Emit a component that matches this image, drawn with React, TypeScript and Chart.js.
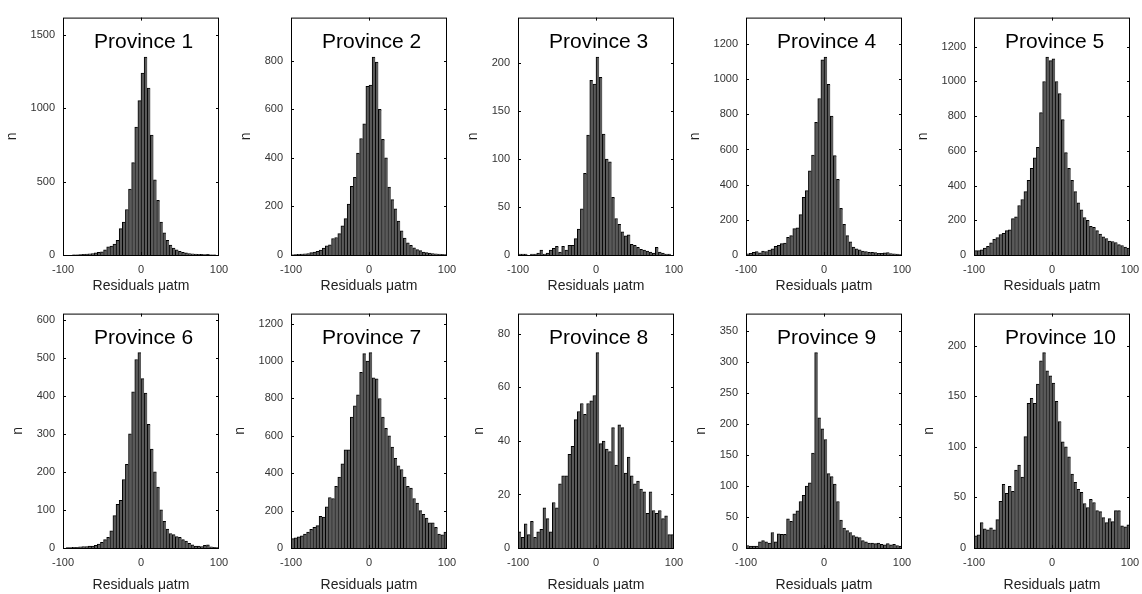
import React, { useEffect, useRef } from "react";
import { Chart, registerables } from "chart.js";

Chart.register(...registerables);
Chart.defaults.font.family = '"Liberation Sans", Arial, Helvetica, sans-serif';

// ---------- data ----------
const binCenters = [
  -98, -94, -90, -86, -82, -78, -74, -70, -66, -62,
  -58, -54, -50, -46, -42, -38, -34, -30, -26, -22,
  -18, -14, -10, -6, -2, 2, 6, 10, 14, 18,
  22, 26, 30, 34, 38, 42, 46, 50, 54, 58,
  62, 66, 70, 74, 78, 82, 86, 90, 94, 98,
];

const xTickValues = [-100, 0, 100];

const provinceNames = [
  "Province 1", "Province 2", "Province 3", "Province 4", "Province 5",
  "Province 6", "Province 7", "Province 8", "Province 9", "Province 10",
];

const yTickSteps = [500, 200, 50, 200, 200, 100, 200, 20, 50, 50];

const province1 = [
  0, 0, 0, 1, 2, 3, 4, 6, 8, 10,
  14, 18, 22, 35, 55, 60, 75, 100, 180, 225,
  310, 450, 630, 873, 1053, 1240, 1349, 1139, 818, 512,
  372, 225, 151, 100, 68, 48, 35, 25, 18, 14,
  10, 8, 6, 5, 4, 3, 4, 2, 1, 0,
];
const province2 = [
  1, 2, 3, 4, 5, 6, 10, 12, 15, 20,
  28, 38, 42, 68, 72, 88, 120, 150, 210, 283,
  320, 420, 480, 540, 695, 700, 815, 795, 600, 477,
  400, 280, 228, 190, 140, 100, 70, 50, 40, 30,
  22, 18, 12, 10, 8, 6, 5, 4, 3, 2,
];
const province3 = [
  1, 1, 1, 0, 1, 1, 2, 5, 1, 2,
  5, 7, 9, 3, 9, 5, 10, 10, 17, 27,
  48, 85, 125, 182, 178, 206, 185, 126, 100, 97,
  60, 38, 32, 24, 20, 21, 11, 10, 8, 6,
  5, 4, 3, 2, 8, 3, 2, 1, 1, 0,
];
const province4 = [
  6, 10, 15, 20, 12, 22, 20, 28, 35, 50,
  55, 65, 68, 100, 110, 150, 155, 230, 328, 366,
  478, 568, 755, 890, 1110, 1125, 970, 790, 565, 430,
  265, 175, 110, 75, 45, 35, 30, 22, 20, 15,
  15, 14, 10, 10, 12, 14, 8, 6, 5, 3,
];
const province5 = [
  25, 25, 30, 40, 50, 70, 90, 100, 118, 125,
  140, 145, 210, 220, 285, 320, 365, 430, 500, 560,
  620, 820, 1000, 1140, 1120, 1130, 1000, 930, 780, 590,
  500, 430, 365, 300, 260, 215, 200, 165, 160, 140,
  120, 105, 95, 80, 78, 72, 60, 55, 45, 40,
];
const province6 = [
  0, 1, 1, 2, 2, 3, 4, 4, 5, 5,
  7, 10, 15, 22, 28, 45, 85, 115, 125, 180,
  220, 300, 410, 495, 513, 445, 407, 325, 260, 200,
  160, 100, 70, 50, 38, 35, 30, 28, 22, 18,
  12, 8, 5, 5, 4, 7, 8, 3, 2, 1,
];
const province7 = [
  50, 55, 60, 65, 75, 85, 100, 110, 120, 170,
  165, 220, 270, 265, 330, 380, 450, 525, 525, 700,
  760, 820, 940, 1040, 1000, 1045, 910, 905, 800, 700,
  640, 600, 540, 480, 440, 420, 380, 330, 320, 265,
  240, 200, 180, 160, 135, 135, 110, 75, 70, 85,
];
const province8 = [
  6, 4, 9, 5, 10, 4, 6, 7, 15, 11,
  6, 17, 15, 24, 27, 27, 35, 38, 48, 51,
  54, 50, 54, 55, 57, 73, 39, 40, 37, 36,
  45, 31, 46, 45, 28, 34, 27, 24, 25, 22,
  21, 13, 21, 14, 13, 14, 11, 12, 5, 5,
];
const province9 = [
  4, 3, 3, 3, 10, 12, 10, 8, 25, 10,
  23, 22, 22, 47, 43, 55, 60, 75, 85, 100,
  105, 153, 315, 210, 192, 175, 120, 115, 103, 75,
  45, 32, 28, 25, 20, 18, 17, 12, 10, 8,
  8, 7, 8, 6, 5, 7, 5, 6, 4, 3,
];
const province10 = [
  12, 13, 25, 19, 18, 20, 18, 28, 46, 63,
  54, 61, 56, 77, 82, 70, 110, 143, 148, 143,
  162, 185, 193, 175, 170, 163, 145, 125, 105, 100,
  90, 73, 65, 58, 55, 44, 40, 48, 45, 37,
  36, 30, 25, 29, 26, 37, 37, 22, 21, 23,
];

const provinceSeries = [
  province1, province2, province3, province4, province5,
  province6, province7, province8, province9, province10,
];

// ---------- layout ----------
const PLOT_W = 156;
const colLefts = [63, 291, 518, 746, 974];
const rowTops = [15, 311];
const rowHeights = [240, 237];
const rowXSpace = [40, 46];
const AREA_LEFT = 70;
const PAD_TOP = 12;
const PAD_RIGHT = 18;

function makeBoxPlugin(name: string) {
  return {
    id: "matlabBox",
    afterDraw(chart: any) {
      const { ctx, chartArea: a, scales } = chart;
      ctx.save();
      ctx.strokeStyle = "#000";
      ctx.lineWidth = 1;
      ctx.strokeRect(a.left + 0.5, a.top + 0.5, a.right - a.left - 1, a.bottom - a.top);
      const tl = 3;
      ctx.beginPath();
      for (const t of scales.y.ticks) {
        if (t.value === 0) continue;
        const py = Math.round(scales.y.getPixelForValue(t.value)) + 0.5;
        ctx.moveTo(a.left, py);
        ctx.lineTo(a.left + tl, py);
        ctx.moveTo(a.right, py);
        ctx.lineTo(a.right - tl, py);
      }
      for (const t of scales.x.ticks) {
        if (t.value <= -100 || t.value >= 100) continue;
        const px = Math.round(scales.x.getPixelForValue(t.value)) + 0.5;
        ctx.moveTo(px, a.bottom);
        ctx.lineTo(px, a.bottom - tl);
        ctx.moveTo(px, a.top);
        ctx.lineTo(px, a.top + tl);
      }
      ctx.stroke();
      ctx.fillStyle = "#000";
      ctx.font = '21px "Liberation Sans", Arial, sans-serif';
      ctx.textBaseline = "alphabetic";
      ctx.textAlign = "left";
      ctx.fillText(name, a.left + 31, a.top + 30);
      ctx.restore();
    },
  };
}

function Panel({ index }: { index: number }) {
  const ref = useRef<HTMLCanvasElement>(null);
  const row = Math.floor(index / 5);
  const col = index % 5;
  const plotH = rowHeights[row];
  const xH = rowXSpace[row];
  const width = AREA_LEFT + PLOT_W + PAD_RIGHT;
  const height = PAD_TOP + plotH + xH;

  useEffect(() => {
    const values = provinceSeries[index];
    const ymax = 1.2 * Math.max(...values);
    const step = yTickSteps[index];
    const yTicks: number[] = [];
    for (let v = 0; v <= ymax; v += step) yTicks.push(v);

    const opts: any = {
      responsive: false,
      animation: false,
      devicePixelRatio: 1,
      events: [],
      layout: { padding: { left: 0, top: PAD_TOP, right: PAD_RIGHT, bottom: 0 } },
      plugins: { legend: { display: false }, tooltip: { enabled: false } },
      scales: {
        x: {
          type: "linear",
          min: -100,
          max: 100,
          offset: false,
          grid: { display: false, drawTicks: false, offset: false },
          border: { display: false },
          afterBuildTicks: (s: any) => {
            s.ticks = xTickValues.map((v) => ({ value: v }));
          },
          afterFit: (s: any) => {
            s.height = xH;
          },
          ticks: {
            autoSkip: false,
            maxRotation: 0,
            minRotation: 0,
            padding: 8,
            color: "#333",
            font: { size: 11 },
            callback: (v: any) => String(v),
          },
          title: { display: true, text: "Residuals μatm", color: "#222", font: { size: 14 }, padding: 0 },
        },
        y: {
          type: "linear",
          min: 0,
          max: ymax,
          grid: { display: false, drawTicks: false },
          border: { display: false },
          afterBuildTicks: (s: any) => {
            s.ticks = yTicks.map((v) => ({ value: v }));
          },
          ticks: { padding: 8, color: "#333", font: { size: 11 }, callback: (v: any) => String(v) },
          title: { display: true, text: "n", color: "#222", font: { size: 14 }, padding: { top: 0, bottom: 2 } },
        },
      },
    };

    const chart = new Chart(ref.current as HTMLCanvasElement, {
      type: "bar",
      data: {
        datasets: [
          {
            data: binCenters.map((x, i) => ({ x, y: values[i] })),
            backgroundColor: "#5a5a5a",
            borderColor: "#000",
            borderWidth: { top: 1, left: 1, right: 0, bottom: 0 },
            borderSkipped: "bottom",
            barPercentage: 1,
            categoryPercentage: 1,
          } as any,
        ],
      },
      options: opts,
      plugins: [makeBoxPlugin(provinceNames[index])],
    });

    const yW = chart.scales.y.width;
    opts.layout.padding.left = AREA_LEFT - yW;
    chart.update();

    return () => chart.destroy();
  }, [index]);

  return (
    <canvas
      ref={ref}
      width={width}
      height={height}
      style={{
        position: "absolute",
        left: colLefts[col] - AREA_LEFT,
        top: rowTops[row] - PAD_TOP,
        width,
        height,
      }}
    />
  );
}

export default function App() {
  return (
    <div
      style={{
        position: "absolute",
        left: 0,
        top: 0,
        width: 1142,
        height: 594,
        background: "#fff",
        overflow: "hidden",
      }}
    >
      {provinceNames.map((_, i) => (
        <Panel key={i} index={i} />
      ))}
    </div>
  );
}
